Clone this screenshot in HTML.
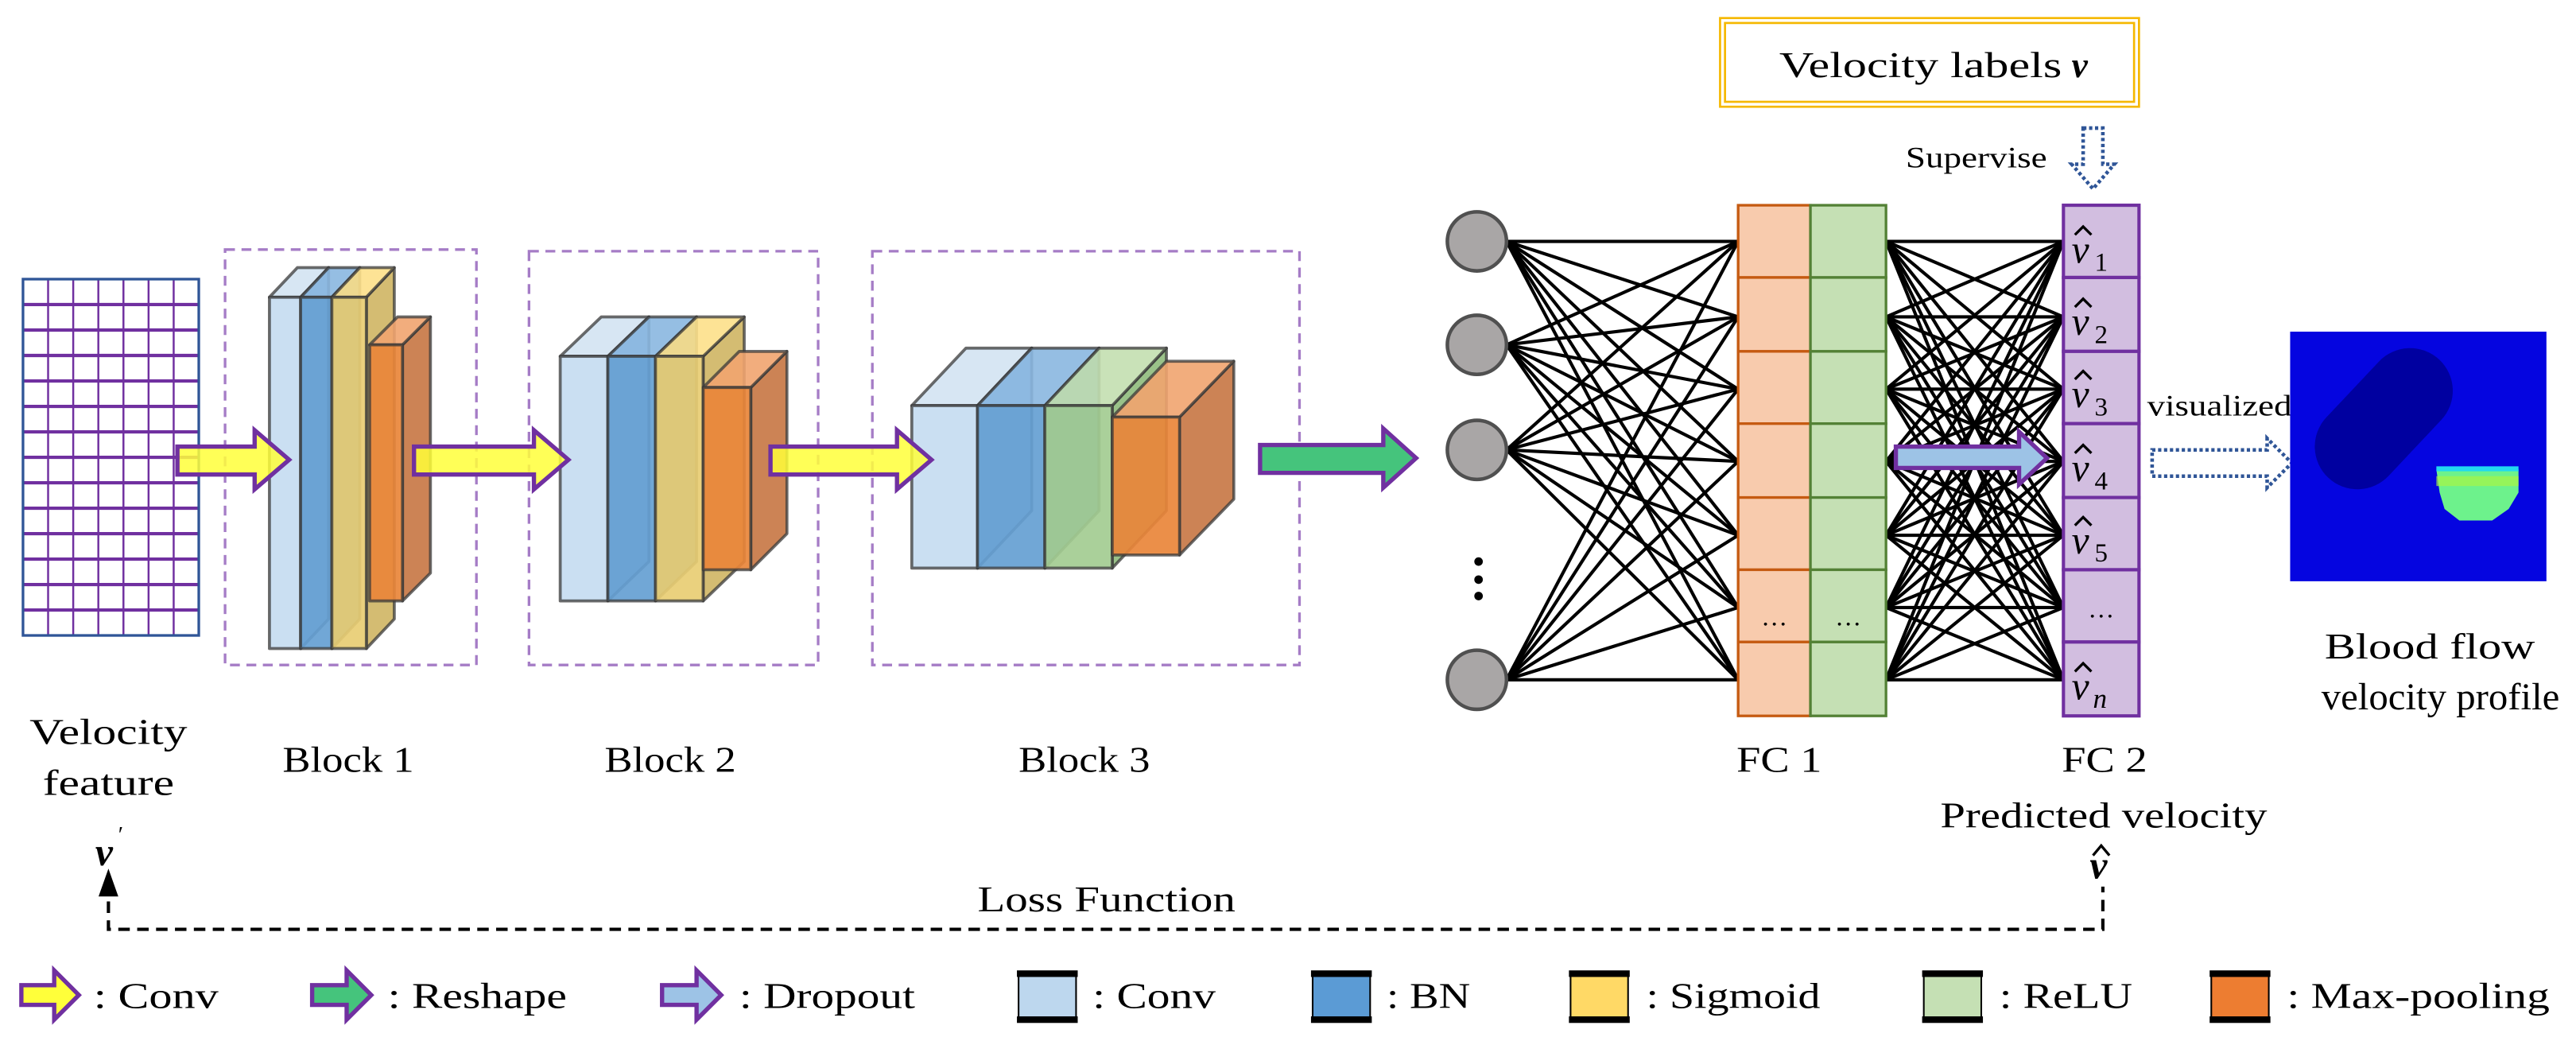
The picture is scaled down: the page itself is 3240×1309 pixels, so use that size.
<!DOCTYPE html>
<html><head><meta charset="utf-8"><style>
html,body{margin:0;padding:0;background:#fff;}
svg{display:block;}
text{font-family:"Liberation Serif",serif;fill:#000;}
</style></head><body>
<svg id="s" width="3240" height="1309" viewBox="0 0 1568 634" preserveAspectRatio="none" xmlns="http://www.w3.org/2000/svg">
<rect width="1568" height="634" fill="#fff"/>
<g id="grid"></g>
<g fill="none" stroke="#a57cc6" stroke-width="1.6" stroke-dasharray="6,4">
<rect x="137" y="152" width="153" height="253"/>
<rect x="322" y="153" width="176" height="252"/>
<rect x="531" y="153" width="260" height="252"/>
</g>
<g id="layers" stroke="#3a3a3a" stroke-opacity="0.75" stroke-width="1.8" stroke-linejoin="round"></g>
<g stroke="#7030a0" stroke-width="2.6" fill="#ffff3a" stroke-linejoin="miter">
<path d="M108,272 H155 V262 L176,280 L155,298 V289 H108 Z" fill-opacity="0.85"/>
<path d="M252,272 H325 V262 L346,280 L325,298 V289 H252 Z" fill-opacity="0.85"/>
<path d="M469,272 H546 V262 L567,280 L546,298 V289 H469 Z" fill-opacity="0.85"/>
<path d="M767,271 H842 V261 L862,279 L842,297 V288 H767 Z" fill="#45c47c"/>
</g>
<g id="net" stroke="#000" stroke-width="2"></g>
<g fill="#a9a6a6" stroke="#505050" stroke-width="2.2">
<circle cx="899" cy="147" r="18"/><circle cx="899" cy="210" r="18"/><circle cx="899" cy="274" r="18"/><circle cx="899" cy="414" r="18"/>
</g>
<g fill="#000"><circle cx="900" cy="342" r="2.6"/><circle cx="900" cy="353" r="2.6"/><circle cx="900" cy="363" r="2.6"/></g>
<g id="fc"></g>
<path d="M1154,272 H1229 V263 L1246,279 L1229,295 V285 H1154 Z" fill="#9dc3e6" stroke="#7030a0" stroke-width="2.6"/>
<g font-style="italic" font-size="24">
<text x="1261" y="160">v</text><text x="1261" y="204">v</text><text x="1261" y="248">v</text><text x="1261" y="293">v</text><text x="1261" y="337">v</text><text x="1261" y="426">v</text>
</g>
<g id="hats" fill="none" stroke="#000" stroke-width="1.6"></g>
<g font-size="16" font-family="'DejaVu Sans',sans-serif">
<text x="1275" y="165">1</text><text x="1275" y="209">2</text><text x="1275" y="253">3</text><text x="1275" y="298">4</text><text x="1275" y="342">5</text>
</g>
<text x="1274" y="431" font-size="17" font-style="italic">n</text>
<text x="1279" y="376" font-size="16" text-anchor="middle">…</text>
<text x="1080" y="381" font-size="16" text-anchor="middle">…</text>
<text x="1125" y="381" font-size="16" text-anchor="middle">…</text>
<rect x="1047" y="11" width="255" height="54" fill="none" stroke="#f5b800" stroke-width="1.3"/>
<rect x="1050" y="14" width="249" height="48" fill="none" stroke="#f5b800" stroke-width="1.3"/>
<text x="1083" y="47" font-size="22" textLength="172" lengthAdjust="spacingAndGlyphs">Velocity labels</text>
<text x="1261" y="47" font-size="22" font-weight="bold" font-style="italic">v</text>
<text x="1160" y="102" font-size="18" textLength="86" lengthAdjust="spacingAndGlyphs">Supervise</text>
<path d="M1268,78 H1280 V100 H1287 L1274,115 L1261,100 H1268 Z" fill="none" stroke="#2f5597" stroke-width="2.2" stroke-dasharray="2,1.6"/>
<text x="1307" y="253" font-size="18" textLength="88" lengthAdjust="spacingAndGlyphs">visualized</text>
<path d="M1310,274 H1380 V267 L1395,282 L1380,297 V290 H1310 Z" fill="none" stroke="#2f5597" stroke-width="2.2" stroke-dasharray="2,1.6"/>
<rect x="1394" y="202" width="156" height="152" fill="#0505e0"/>
<line x1="1435" y1="272" x2="1467" y2="238" stroke="#0000a0" stroke-width="52" stroke-linecap="round"/>
<path d="M1483,286 H1533 V300 L1527,310 L1517,317 H1497 L1488,310 L1485,300 Z" fill="#6df28c"/>
<rect x="1483" y="284" width="50" height="3" fill="#22d8f0"/>
<rect x="1483" y="290" width="50" height="6" fill="#a8f545" opacity="0.7"/>
<g font-size="22">
<text x="18" y="453" textLength="96" lengthAdjust="spacingAndGlyphs">Velocity</text>
<text x="26" y="484" textLength="80" lengthAdjust="spacingAndGlyphs">feature</text>
<text x="172" y="470" textLength="80" lengthAdjust="spacingAndGlyphs">Block 1</text>
<text x="368" y="470" textLength="80" lengthAdjust="spacingAndGlyphs">Block 2</text>
<text x="620" y="470" textLength="80" lengthAdjust="spacingAndGlyphs">Block 3</text>
<text x="1057" y="470" textLength="52" lengthAdjust="spacingAndGlyphs">FC 1</text>
<text x="1255" y="470" textLength="52" lengthAdjust="spacingAndGlyphs">FC 2</text>
<text x="1181" y="504" textLength="199" lengthAdjust="spacingAndGlyphs">Predicted velocity</text>
<text x="1415" y="401" textLength="128" lengthAdjust="spacingAndGlyphs">Blood flow</text>
<text x="1413" y="432" font-size="23" textLength="145" lengthAdjust="spacingAndGlyphs">velocity profile</text>
<text x="595" y="555" textLength="157" lengthAdjust="spacingAndGlyphs">Loss Function</text>
</g>
<text x="58" y="527" font-size="24" font-weight="bold" font-style="italic">v</text>
<text x="72" y="513" font-size="14">′</text>
<text x="1272" y="535" font-size="24" font-weight="bold" font-style="italic">v</text>
<path d="M1274,521 L1279,515 L1284,521" fill="none" stroke="#000" stroke-width="1.6"/>
<path d="M66,549 V566 H1280 V540" fill="none" stroke="#000" stroke-width="2" stroke-dasharray="7,4.5"/>
<path d="M60,546 L66,529 L72,546 Z" fill="#000"/>
<g stroke="#7030a0" stroke-width="2.6">
<path d="M13,600 H33 V591 L48,606 L33,621 V612 H13 Z" fill="#ffff3a"/>
<path d="M190,600 H211 V591 L226,606 L211,621 V612 H190 Z" fill="#45c47c"/>
<path d="M403,600 H424 V591 L439,606 L424,621 V612 H403 Z" fill="#9dc3e6"/>
</g>
<g stroke="#000">
<rect x="620" y="594" width="35" height="26" fill="#bdd7ee" stroke-width="1"/>
<rect x="799" y="594" width="35" height="26" fill="#5b9bd5" stroke-width="1"/>
<rect x="956" y="594" width="35" height="26" fill="#ffd966" stroke-width="1"/>
<rect x="1171" y="594" width="35" height="26" fill="#c5e0b4" stroke-width="1"/>
<rect x="1346" y="594" width="35" height="26" fill="#ed7d31" stroke-width="1"/>
</g>
<g fill="#000">
<rect x="619" y="591" width="37" height="4"/><rect x="619" y="619" width="37" height="4"/>
<rect x="798" y="591" width="37" height="4"/><rect x="798" y="619" width="37" height="4"/>
<rect x="955" y="591" width="37" height="4"/><rect x="955" y="619" width="37" height="4"/>
<rect x="1170" y="591" width="37" height="4"/><rect x="1170" y="619" width="37" height="4"/>
<rect x="1345" y="591" width="37" height="4"/><rect x="1345" y="619" width="37" height="4"/>
</g>
<g font-size="22">
<text x="57" y="614" textLength="76" lengthAdjust="spacingAndGlyphs">: Conv</text>
<text x="236" y="614" textLength="109" lengthAdjust="spacingAndGlyphs">: Reshape</text>
<text x="450" y="614" textLength="107" lengthAdjust="spacingAndGlyphs">: Dropout</text>
<text x="665" y="614" textLength="75" lengthAdjust="spacingAndGlyphs">: Conv</text>
<text x="844" y="614" textLength="51" lengthAdjust="spacingAndGlyphs">: BN</text>
<text x="1002" y="614" textLength="106" lengthAdjust="spacingAndGlyphs">: Sigmoid</text>
<text x="1217" y="614" textLength="81" lengthAdjust="spacingAndGlyphs">: ReLU</text>
<text x="1392" y="614" textLength="160" lengthAdjust="spacingAndGlyphs">: Max-pooling</text>
</g>
</svg>
<script>
var NS="http://www.w3.org/2000/svg";
function el(p,t,a){var e=document.createElementNS(NS,t);for(var k in a)e.setAttribute(k,a[k]);p.appendChild(e);return e;}
var g=document.getElementById('grid');
for(var i=1;i<7;i++){var x=14+i*107/7;el(g,'line',{x1:x,y1:170,x2:x,y2:387,stroke:'#7030a0','stroke-width':1.2});}
for(var j=1;j<14;j++){var y=170+j*217/14;el(g,'line',{x1:14,y1:y,x2:121,y2:y,stroke:'#7030a0','stroke-width':2});}
el(g,'rect',{x:14,y:170,width:107,height:217,fill:'none',stroke:'#2f5597','stroke-width':1.6});
var H=document.getElementById('hats');
[160,204,248,293,337,426].forEach(function(b){el(H,'path',{d:'M1263,'+(b-17)+' L1268,'+(b-22)+' L1273,'+(b-17)});});
var L=document.getElementById('layers');
function box(x,y,w,h,dx,dy,f,t,s){
 el(L,'polygon',{points:[x+w,y,x+w+dx,y-dy,x+w+dx,y+h-dy,x+w,y+h].join(','),fill:s,'fill-opacity':0.9});
 el(L,'polygon',{points:[x,y,x+dx,y-dy,x+w+dx,y-dy,x+w,y].join(','),fill:t,'fill-opacity':0.9});
 el(L,'rect',{x:x,y:y,width:w,height:h,fill:f,'fill-opacity':0.92});
}
var C={lb:['#c6dcf1','#d3e3f2','#a9c4e0'],b:['#659fd3','#8ab7e0','#4f86bd'],y:['#e8cd73','#fde08a','#cfb563'],g:['#a3cc91','#c3dfb0','#8fbb7c'],o:['#e9853a','#f1a46f','#c77643']};
function B(x,y,w,h,dx,dy,c){box(x,y,w,h,dx,dy,C[c][0],C[c][1],C[c][2]);}
B(164,181,19,214,17,18,'lb');B(183,181,19,214,17,18,'b');B(202,181,21,214,17,18,'y');
B(225,210,20,156,17,17,'o');
B(341,217,29,149,25,24,'lb');B(370,217,29,149,25,24,'b');B(399,217,29,149,25,24,'y');
B(428,236,29,111,22,22,'o');
B(555,247,40,99,33,35,'lb');B(595,247,41,99,33,35,'b');B(636,247,41,99,33,35,'g');
B(677,254,41,84,33,34,'o');
var N=document.getElementById('net');
var ys=[147,193,237,281,326,370,414],ny=[147,210,274,414];
ny.forEach(function(a){ys.forEach(function(b){el(N,'line',{x1:917,y1:a,x2:1058,y2:b});});});
ys.forEach(function(a){ys.forEach(function(b){el(N,'line',{x1:1148,y1:a,x2:1256,y2:b});});});
var F=document.getElementById('fc');
var rows=[125,169,214,258,303,347,391,436];
for(var r=0;r<7;r++){
 el(F,'rect',{x:1058,y:rows[r],width:44,height:rows[r+1]-rows[r],fill:'#f8cbad',stroke:'#c55a11','stroke-width':1.6});
 el(F,'rect',{x:1102,y:rows[r],width:46,height:rows[r+1]-rows[r],fill:'#c5e0b4',stroke:'#538135','stroke-width':1.6});
 el(F,'rect',{x:1256,y:rows[r],width:46,height:rows[r+1]-rows[r],fill:'#d2bee0',stroke:'#7030a0','stroke-width':2});
}
</script>
</body></html>
